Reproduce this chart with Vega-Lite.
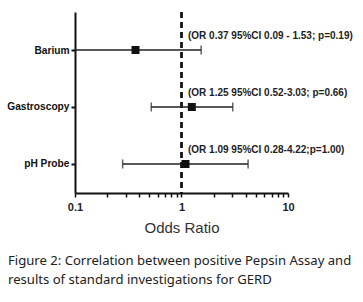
{
  "$schema": "https://vega.github.io/schema/vega-lite/v6.json",
  "autosize": "none",
  "width": 213,
  "height": 181,
  "padding": {"left": 75, "top": 12, "right": 75, "bottom": 109},
  "background": "white",
  "title": {
    "text": ["Figure 2: Correlation between positive Pepsin Assay and", "results of standard investigations for GERD"],
    "orient": "bottom",
    "anchor": "start",
    "frame": "group",
    "offset": 20,
    "dx": -67,
    "font": "Noto Sans",
    "fontSize": 13.1,
    "fontWeight": "normal",
    "color": "#222222",
    "lineHeight": 19
  },
  "config": {"view": {"stroke": null}},
  "data": {
    "values": [
      {"label": "Barium", "or": 0.37, "lo": 0.09, "hi": 1.53, "note": "(OR 0.37 95%CI 0.09 - 1.53; p=0.19)"},
      {"label": "Gastroscopy", "or": 1.25, "lo": 0.52, "hi": 3.03, "note": "(OR 1.25 95%CI 0.52-3.03; p=0.66)"},
      {"label": "pH Probe", "or": 1.09, "lo": 0.28, "hi": 4.22, "note": "(OR 1.09 95%CI 0.28-4.22;p=1.00)"}
    ]
  },
  "encoding": {
    "y": {
      "field": "label",
      "type": "nominal",
      "sort": null,
      "scale": {"type": "point", "padding": 0.588, "align": 0.567},
      "axis": {
        "title": null,
        "domainColor": "#111111",
        "domainWidth": 2,
        "tickColor": "#111111",
        "tickWidth": 2,
        "tickSize": 4,
        "labelPadding": 2,
        "labelFont": "Liberation Sans",
        "labelFontSize": 10.2,
        "labelFontWeight": "bold",
        "labelColor": "#111111"
      }
    }
  },
  "layer": [
    {
      "mark": {"type": "rule", "color": "#111111", "strokeWidth": 2, "strokeDash": [6, 4]},
      "encoding": {"x": {"datum": 1, "type": "quantitative"}, "y": null}
    },
    {
      "mark": {"type": "rule", "color": "#222222", "strokeWidth": 1.5},
      "encoding": {
        "x": {
          "field": "lo",
          "type": "quantitative",
          "scale": {"type": "log", "domain": [0.1, 10], "clamp": true, "nice": false},
          "axis": {
            "title": "Odds Ratio",
            "values": [0.1, 0.2, 0.3, 0.4, 0.5, 0.6, 0.7, 0.8, 0.9, 1, 2, 3, 4, 5, 6, 7, 8, 9, 10],
            "format": "~g",
            "labelExpr": "(datum.value == 0.1 || datum.value == 1 || datum.value == 10) ? datum.label : ''",
            "grid": false,
            "domainColor": "#111111",
            "domainWidth": 2,
            "tickColor": "#111111",
            "tickWidth": 1.5,
            "tickSize": 4,
            "labelFont": "Liberation Sans",
            "labelFontSize": 11,
            "labelFontWeight": "bold",
            "labelColor": "#222222",
            "labelPadding": 4,
            "labelFlush": false,
            "titleFont": "Liberation Sans",
            "titleFontSize": 15,
            "titleFontWeight": "normal",
            "titleColor": "#333333",
            "titlePadding": 8
          }
        },
        "x2": {"field": "hi"}
      }
    },
    {
      "transform": [{"filter": "datum.lo >= 0.1"}],
      "mark": {"type": "tick", "orient": "vertical", "color": "#222222", "thickness": 1.5, "size": 9},
      "encoding": {"x": {"field": "lo", "type": "quantitative"}}
    },
    {
      "mark": {"type": "tick", "orient": "vertical", "color": "#222222", "thickness": 1.5, "size": 9},
      "encoding": {"x": {"field": "hi", "type": "quantitative"}}
    },
    {
      "mark": {"type": "square", "color": "#111111", "opacity": 1, "filled": true, "size": 64},
      "encoding": {"x": {"field": "or", "type": "quantitative"}}
    },
    {
      "mark": {"type": "text", "align": "left", "baseline": "middle", "dy": -14, "font": "Liberation Sans", "fontSize": 10, "fontWeight": "bold", "color": "#222222"},
      "encoding": {"x": {"datum": 1.15, "type": "quantitative"}, "text": {"field": "note"}}
    }
  ]
}
